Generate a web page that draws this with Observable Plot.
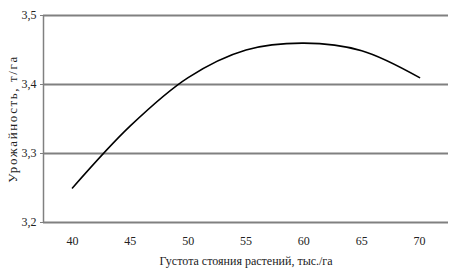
<!DOCTYPE html>
<html><head><meta charset="utf-8">
<script src="https://cdn.jsdelivr.net/npm/d3@7"></script>
<script src="https://cdn.jsdelivr.net/npm/@observablehq/plot@0.6"></script>
<style>body{margin:0;background:#fff} svg text{font-family:"Liberation Serif","DejaVu Serif",serif !important;}
g[aria-label="y-axis label"] text{letter-spacing:1.6px;font-size:13px}</style>
</head><body><div id="chart"></div>
<script>
const density = [40, 45, 50, 55, 60, 65, 70];
const yieldVals = [3.25, 3.34, 3.41, 3.45, 3.46, 3.449, 3.41];
const xTicks = [40, 45, 50, 55, 60, 65, 70];
const yTicks = [3.2, 3.3, 3.4, 3.5];
const xDomain = [37.5, 72.5];
const yDomain = [3.2, 3.5];
const xTitle = "Густота стояния растений, тыс./га";
const yTitle = "Урожайность, т/га";

const data = density.map((d, i) => ({x: d, y: yieldVals[i]}));
const fmt = d => d.toFixed(1).replace(".", ",");

const chart = Plot.plot({
  width: 450, height: 278,
  marginLeft: 43, marginRight: 2, marginTop: 15, marginBottom: 56,
  style: {fontSize: "12px", color: "#222", background: "#fff"},
  x: {domain: xDomain, label: null},
  y: {domain: yDomain, label: null},
  marks: [
    Plot.ruleY(yTicks, {stroke: "#808080", strokeWidth: 2}),
    Plot.ruleX([xDomain[0]], {stroke: "#808080", strokeWidth: 1.5}),
    Plot.axisX({ticks: xTicks, tickSize: 0, tickPadding: 14, label: xTitle, labelAnchor: "center", labelArrow: "none", labelOffset: 42}),
    Plot.axisY({ticks: yTicks, tickSize: 3, tickPadding: 4, stroke: "#808080", label: yTitle, labelAnchor: "center", labelArrow: "none", labelOffset: 36, tickFormat: fmt}),
    Plot.line(data, {x: "x", y: "y", curve: "catmull-rom", stroke: "#000", strokeWidth: 1.6})
  ]
});
document.getElementById("chart").append(chart);
</script>
</body></html>
